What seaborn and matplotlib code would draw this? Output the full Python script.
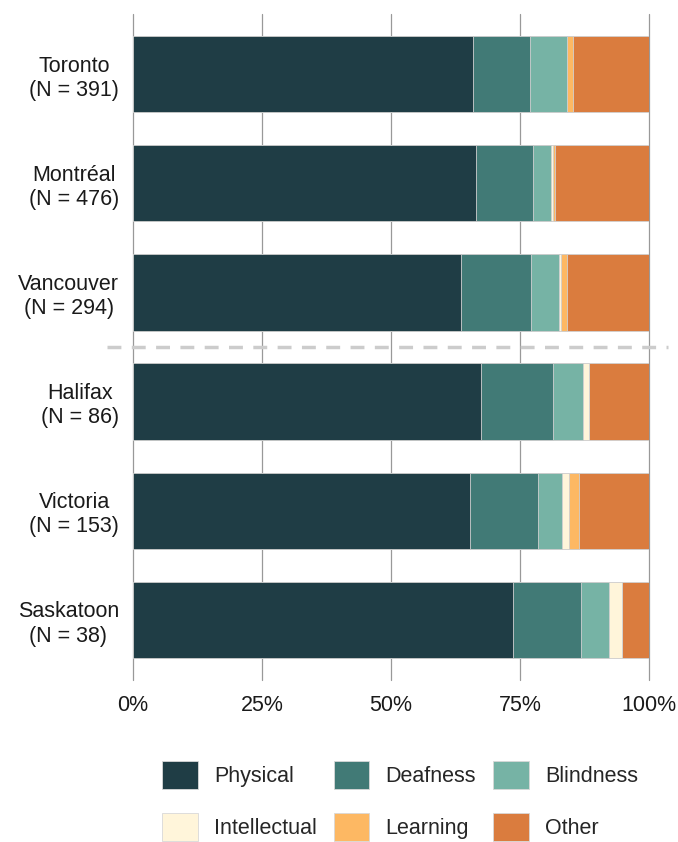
import numpy as np
import pandas as pd
import matplotlib
matplotlib.use("Agg")
import matplotlib.pyplot as plt
import matplotlib.transforms as mtransforms
import seaborn as sns
from matplotlib.patches import Patch

# Share of disability type among respondents, by city (percent)
cities = ["Toronto", "Montréal", "Vancouver", "Halifax", "Victoria", "Saskatoon"]
sizes = [391, 476, 294, 86, 153, 38]
categories = ["Physical", "Deafness", "Blindness", "Intellectual", "Learning", "Other"]
physical = [65.9, 66.4, 63.6, 67.4, 65.4, 73.7]
deafness = [11.0, 11.1, 13.6, 14.0, 13.1, 13.2]
blindness = [7.2, 3.6, 5.4, 5.8, 4.6, 5.3]
intellectual = [0.0, 0.2, 0.3, 1.2, 1.3, 2.6]
learning = [1.1, 0.4, 1.2, 0.0, 2.0, 0.0]
other = [14.8, 18.3, 15.9, 11.6, 13.6, 5.2]
colors = ["#1f3d45", "#417a76", "#76b3a5", "#fff5da", "#fdb863", "#da7c3e"]

labels = [f"{c}\n(N = {n})" for c, n in zip(cities, sizes)]
df = pd.DataFrame({"label": labels})
series = [physical, deafness, blindness, intellectual, learning, other]
cum = np.cumsum(np.array(series), axis=0)
for cat, vals in zip(categories, cum):
    df[cat] = vals

sns.set_style("white")
plt.rcParams["font.family"] = ["Liberation Sans", "DejaVu Sans"]

fig = plt.figure(figsize=(6.78, 8.42), dpi=100)
ax = fig.add_axes([133 / 678, 1 - 680 / 842, 516 / 678, 666 / 842])

# stacked bars: draw cumulative totals from the outermost inwards
for cat, col in reversed(list(zip(categories, colors))):
    sns.barplot(data=df, y="label", x=cat, color=col, orient="h", width=0.7,
                edgecolor="#d0d0d0", linewidth=0.6, saturation=1, ax=ax, zorder=3)

ax.set_xlim(0, 100)
ax.set_ylim(5.55, -0.55)
ax.set_xticks([0, 25, 50, 75, 100])
ax.set_xticklabels(["0%", "25%", "50%", "75%", "100%"])
ax.grid(axis="x", color="#999999", linewidth=0.9, zorder=0)
for gl in ax.get_xgridlines():
    gl.set_clip_on(False)
ax.set_axisbelow(True)
ax.set_xlabel("")
ax.set_ylabel("")
for s in ax.spines.values():
    s.set_visible(False)
ax.tick_params(axis="both", length=0, labelsize=15.5, colors="#1a1a1a")
ax.tick_params(axis="y", pad=10)
ax.tick_params(axis="x", pad=11)
for t in ax.get_yticklabels():
    t.set_multialignment("center")

# separator between the large and smaller cities
trans = mtransforms.blended_transform_factory(ax.transAxes, ax.transData)
ax.plot([-0.05, 1.037], [2.5, 2.5], transform=trans, color="#cccccc", linewidth=2.5,
        linestyle=(0, (4, 3)), clip_on=False, zorder=4)

# legend filled row by row (matplotlib fills columns first)
order = [0, 3, 1, 4, 2, 5]
handles = [Patch(facecolor=colors[i], edgecolor="#d8d8d8", linewidth=0.6) for i in order]
fig.legend(handles, [categories[i] for i in order], loc="center",
           bbox_to_anchor=(400 / 678, 1 - 801 / 842),
           ncol=3, frameon=False, fontsize=15.5, handlelength=1.65, handleheight=1.65,
           handletextpad=0.75, columnspacing=0.8, labelspacing=1.1)

fig.savefig("out.png", dpi=100)
